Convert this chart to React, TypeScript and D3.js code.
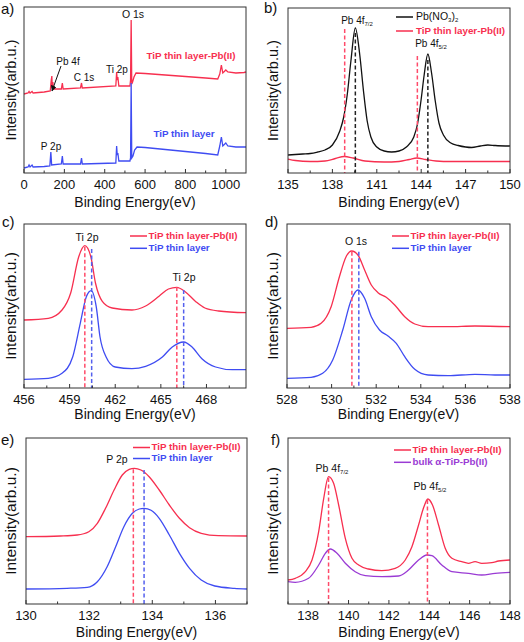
import React from "react";
import * as d3 from "d3";

type Pt = [number, number];

// ---------- Panel a: survey spectra (binding energy eV, intensity a.u.) ----------
const surveyPbLoaded: Pt[] = [
  [0, 79], [20, 80], [25, 81.5], [30, 80], [40, 81.5], [45, 80], [100, 81], [130, 82], [135, 93], [138, 97],
  [140, 85], [143, 91], [146, 84], [185, 84], [190, 90], [194, 84], [280, 85], [285, 90], [289, 85],
  [455, 87], [459, 101], [462, 93], [465, 96], [470, 87], [525, 87], [528, 93], [531, 153], [534, 89],
  [538, 91], [545, 96], [555, 100], [600, 99.5], [700, 98], [800, 96.5], [900, 95], [960, 94], [970, 99],
  [978, 108], [985, 100], [995, 102], [1000, 103], [1010, 101], [1050, 100], [1090, 100.5], [1100, 101],
];
const surveyTiP: Pt[] = [
  [0, 5], [20, 6], [25, 8], [30, 6], [40, 8], [45, 6], [100, 6.5], [128, 7], [133, 21], [137, 8],
  [185, 9], [190, 17], [194, 9], [280, 9], [285, 15], [289, 9], [455, 10], [459, 27], [462, 18],
  [465, 20], [470, 12], [525, 12], [528, 15], [531, 90], [534, 15], [540, 17], [548, 23], [560, 26],
  [600, 25.5], [700, 23.5], [800, 21.5], [900, 19.5], [960, 18], [970, 27], [978, 36], [985, 27],
  [995, 29], [1000, 30], [1010, 27], [1050, 26], [1100, 26],
];
const ticksA = [0, 200, 400, 600, 800, 1000];
const minorA = [100, 300, 500, 700, 900];

// ---------- Panel b: Pb 4f ----------
const pbNitrate: Pt[] = [
  [135, 18], [136, 19], [136.5, 19.5], [137, 21], [137.5, 23], [138, 28], [138.5, 42], [138.75, 55],
  [139, 78], [139.25, 112], [139.55, 145], [139.85, 118], [140.1, 82], [140.35, 52], [140.6, 36],
  [141, 26], [141.5, 22], [142, 21], [142.5, 22], [143, 26], [143.5, 36], [143.75, 49], [144, 74],
  [144.2, 98], [144.45, 119], [144.7, 100], [144.95, 72], [145.2, 50], [145.5, 38], [146, 30],
  [146.5, 27.5], [147, 26], [147.4, 25.5], [148, 27], [148.5, 28], [149, 27.5], [150, 27],
];
const pbOnTiPb: Pt[] = [
  [135, 14], [135.5, 12.5], [136.5, 11.5], [137.5, 12], [138.2, 14.5], [138.8, 16.5], [139.4, 15],
  [140.2, 12], [141.5, 11], [142.5, 11.5], [143.2, 13.5], [143.7, 15], [144.3, 13.5], [145, 12],
  [146, 11.5], [148, 11.5], [150, 11.5],
];
const dashNitrate: Pt[] = [[139.55, 140], [144.45, 113]];
const dashPbOnTiPb: Pt[] = [[138.83, 144], [143.74, 117]];
const ticksB = [135, 138, 141, 144, 147, 150];
const minorB = [136.5, 139.5, 142.5, 145.5, 148.5];

// ---------- Panel c: Ti 2p ----------
const ti2pPb: Pt[] = [
  [456, 68], [457.6, 69.7], [458.5, 78], [459.07, 95], [459.6, 131.3], [460, 142.3], [460.4, 131],
  [460.7, 105], [461.15, 86.7], [461.8, 80], [463.1, 78], [464, 82], [464.9, 92], [465.5, 99],
  [466.05, 100.7], [466.6, 96.3], [467.3, 86.3], [467.9, 80], [468.8, 77], [470.6, 75.3],
];
const ti2pTiP: Pt[] = [
  [456, 8.7], [457.6, 9.7], [458.5, 14.7], [459.2, 31], [459.7, 64.7], [460.1, 91.3], [460.42, 97.3],
  [460.75, 81.3], [461, 51], [461.4, 31], [462, 21], [463.1, 19.3], [464, 21.7], [465.1, 31],
  [465.75, 41], [466.5, 46], [467.05, 41], [467.7, 29.3], [468.6, 21], [469.7, 18.3], [470.6, 18.3],
];
const dashTi2pPb: Pt[] = [[460, 141.3], [466.05, 101]];
const dashTi2pTiP: Pt[] = [[460.45, 139], [466.5, 98]];
const ticksC = [456, 459, 462, 465, 468];
const minorC = [457.5, 460.5, 463.5, 466.5, 469.5];

// ---------- Panel d: O 1s ----------
const o1sPb: Pt[] = [
  [528, 59.7], [529.08, 60.7], [529.53, 64.7], [529.98, 81.3], [530.35, 111.3], [530.65, 131.3],
  [530.9, 137], [531.18, 133], [531.48, 118], [531.78, 103], [532.08, 95.3], [532.45, 90.7],
  [532.83, 83], [533.28, 71.3], [533.73, 64], [534.33, 61.3], [535.23, 61.3], [536.43, 62], [538, 61.3],
];
const o1sTiP: Pt[] = [
  [528, 9.7], [529.08, 10.7], [529.6, 14.7], [530.05, 28], [530.5, 58], [530.88, 88], [531.18, 98],
  [531.48, 89.7], [531.78, 71.3], [532.15, 58], [532.53, 52], [532.9, 44.7], [533.28, 31.3],
  [533.73, 18.7], [534.33, 13], [535.23, 12.3], [536.43, 13.7], [537.33, 13], [538, 13],
];
const dashO1sPb: Pt[] = [[530.91, 136.3]];
const dashO1sTiP: Pt[] = [[531.22, 136.3]];
const ticksD = [528, 530, 532, 534, 536, 538];
const minorD = [529, 531, 533, 535, 537];

// ---------- Panel e: P 2p ----------
const p2pPb: Pt[] = [
  [130, 67.3], [131.09, 68], [131.62, 69], [131.99, 72.3], [132.26, 80.7], [132.52, 95.7],
  [132.79, 114], [133.05, 129], [133.27, 134.7], [133.43, 135.7], [133.64, 134], [133.9, 127.3],
  [134.22, 114], [134.54, 99], [134.86, 85.7], [135.18, 76.3], [135.55, 70.7], [136.09, 68.3], [137, 68],
];
const p2pTiP: Pt[] = [
  [130, 15], [131.3, 15.7], [131.94, 16.7], [132.26, 22.3], [132.57, 37.3], [132.84, 57.3],
  [133.1, 77.3], [133.37, 90.7], [133.59, 95], [133.74, 95.7], [133.96, 93.7], [134.22, 85.7],
  [134.54, 69], [134.86, 50.7], [135.18, 35.7], [135.55, 24], [135.98, 18], [136.6, 15.7], [137, 15],
];
const dashP2pPb: Pt[] = [[133.4, 134.7]];
const dashP2pTiP: Pt[] = [[133.74, 134]];
const ticksE = [130, 132, 134, 136];
const minorE = [131, 133, 135, 137];

// ---------- Panel f: Pb 4f thin layer vs bulk ----------
const pb4fThin: Pt[] = [
  [137, 24], [137.36, 25.7], [137.86, 32.3], [138.19, 44], [138.52, 72.3], [138.77, 105.7],
  [139.01, 127.3], [139.26, 120.7], [139.51, 99], [139.84, 65.7], [140.17, 45.7], [140.5, 39],
  [140.99, 35], [141.65, 33.3], [142.31, 35.7], [142.81, 44], [143.14, 57.3], [143.47, 79],
  [143.71, 95.7], [143.93, 105], [144.16, 99], [144.46, 79], [144.79, 55.7], [145.12, 45.7],
  [145.61, 42.3], [145.94, 40.7], [146.27, 42.3], [146.6, 40.7], [147.1, 41.3], [147.43, 43], [148, 44],
];
const pb4fBulk: Pt[] = [
  [137, 22.3], [137.36, 21.7], [138.02, 25.7], [138.52, 39], [138.85, 50.7], [139.1, 55],
  [139.43, 50.7], [139.84, 40.7], [140.33, 32.3], [140.83, 28.3], [141.65, 27.3], [142.48, 28],
  [142.97, 34], [143.47, 44], [143.88, 49], [144.13, 48.3], [144.62, 39], [145.12, 32.3],
  [145.94, 30.7], [146.6, 29], [147.26, 30.7], [148, 31.7],
];
const dashPb4f: Pt[] = [[139.01, 126], [143.91, 104]];
const ticksF = [138, 140, 142, 144, 146, 148];
const minorF = [137, 139, 141, 143, 145, 147];

// ---------- styling ----------
const RED = "#f72f4f";
const RED_DASH = "#ff4b6a";
const BLUE = "#3f4cf2";
const BLUE_DASH = "#5560ee";
const PURPLE = "#9a3bd4";
const FONT = "'Liberation Sans', Arial, sans-serif";

type Series = { data: Pt[]; color: string; smooth?: boolean };
type Dash = { data: Pt[]; color: string };

type PanelProps = {
  box: [number, number, number, number]; // left, top, right, bottom
  xDomain: [number, number];
  yMax: number;
  majors: number[];
  minors: number[];
  series: Series[];
  dashes: Dash[];
  letter: string;
  letterPos: [number, number];
  yLabelX: number;
  yLabelSize: number;
  tickOffset: number;
  titleOffset: number;
  children?: (x: d3.ScaleLinear<number, number>, y: d3.ScaleLinear<number, number>) => React.ReactNode;
};

function Panel(p: PanelProps) {
  const [l, t, r, b] = p.box;
  const x = d3.scaleLinear().domain(p.xDomain).range([l, r]);
  const y = d3.scaleLinear().domain([0, p.yMax]).range([b, t]);
  const midY = (t + b) / 2;
  return (
    <g>
      {p.series.map((s, i) => {
        const line = d3
          .line<Pt>()
          .x((d) => x(d[0]))
          .y((d) => y(d[1]))
          .curve(s.smooth === false ? d3.curveLinear : d3.curveMonotoneX);
        return <path key={i} d={line(s.data) || ""} fill="none" stroke={s.color} strokeWidth={1.3} />;
      })}
      {p.dashes.map((ds, i) =>
        ds.data.map((d, j) => (
          <line
            key={`${i}-${j}`}
            x1={x(d[0])}
            x2={x(d[0])}
            y1={y(d[1])}
            y2={b}
            stroke={ds.color}
            strokeWidth={1.5}
            strokeDasharray="4,2.5"
          />
        ))
      )}
      <rect x={l} y={t} width={r - l} height={b - t} fill="none" stroke="#333" strokeWidth={1} />
      {p.majors.map((v) => (
        <g key={`M${v}`}>
          <line x1={x(v)} x2={x(v)} y1={b} y2={b - 4} stroke="#333" strokeWidth={1} />
          <text x={x(v)} y={b + p.tickOffset} textAnchor="middle" fontSize={13} fill="#111" fontFamily={FONT}>
            {v}
          </text>
        </g>
      ))}
      {p.minors.map((v) => (
        <line key={`m${v}`} x1={x(v)} x2={x(v)} y1={b} y2={b - 2.5} stroke="#333" strokeWidth={1} />
      ))}
      <text x={(l + r) / 2} y={b + p.titleOffset} textAnchor="middle" fontSize={14} fill="#111" fontFamily={FONT}>
        Binding Energy(eV)
      </text>
      <text
        transform={`translate(${p.yLabelX},${midY}) rotate(-90)`}
        textAnchor="middle"
        dominantBaseline="middle"
        fontSize={p.yLabelSize}
        fill="#111"
        fontFamily={FONT}
      >
        Intensity(arb.u.)
      </text>
      <text x={p.letterPos[0]} y={p.letterPos[1]} fontSize={15} fill="#111" fontFamily={FONT}>
        {p.letter}
      </text>
      {p.children ? p.children(x, y) : null}
    </g>
  );
}

const lbl = (xx: number, yy: number, s: React.ReactNode, opts: any = {}) => (
  <text
    x={xx}
    y={yy}
    fontSize={opts.size || 10}
    fill={opts.color || "#111"}
    fontWeight={opts.bold ? "bold" : "normal"}
    textAnchor={opts.anchor || "middle"}
    dominantBaseline="middle"
    fontFamily={FONT}
  >
    {s}
  </text>
);

const sub = (s: string) => (
  <tspan fontSize={6} dy={3}>
    {s}
  </tspan>
);

function Legend({ x0, y0, dy, items }: { x0: number; y0: number; dy: number; items: { label: string; color: string }[] }) {
  return (
    <g>
      {items.map((it, i) => (
        <g key={i}>
          <line x1={x0} x2={x0 + 17} y1={y0 + i * dy} y2={y0 + i * dy} stroke={it.color} strokeWidth={1.5} />
          <text
            x={x0 + 18.5}
            y={y0 + i * dy}
            fontSize={9.8}
            fontWeight="bold"
            fill={it.color}
            dominantBaseline="middle"
            fontFamily={FONT}
          >
            {it.label}
          </text>
        </g>
      ))}
    </g>
  );
}

export default function App() {
  return (
    <svg width={524} height={642} style={{ position: "absolute", left: 0, top: 0, background: "#fff" }}>
      <defs>
        <marker id="arr" viewBox="0 0 10 10" refX="9" refY="5" markerWidth="6" markerHeight="6" orient="auto">
          <path d="M0,0 L10,5 L0,10 z" fill="#111" />
        </marker>
      </defs>
      {/* a */}
      <Panel
        box={[24, 7, 246, 173]}
        xDomain={[0, 1100]}
        yMax={166}
        majors={ticksA}
        minors={minorA}
        series={[
          { data: surveyPbLoaded, color: RED, smooth: false },
          { data: surveyTiP, color: BLUE, smooth: false },
        ]}
        dashes={[]}
        letter="a)"
        letterPos={[1, 14]}
        yLabelX={12}
        yLabelSize={14.5}
        tickOffset={16}
        titleOffset={34}
      >
        {() => (
          <g>
            {lbl(133, 15, "O 1s", { size: 10.5 })}
            {lbl(191, 56, "TiP thin layer-Pb(II)", { color: RED, bold: true, size: 9.8 })}
            {lbl(68, 62, "Pb 4f")}
            {lbl(84, 78, "C 1s")}
            {lbl(117, 70, "Ti 2p")}
            {lbl(184, 134, "TiP thin layer", { color: BLUE, bold: true, size: 9.8 })}
            {lbl(51, 147, "P 2p")}
            <line x1={61} y1={66} x2={52} y2={91} stroke="#111" strokeWidth={1} markerEnd="url(#arr)" />
          </g>
        )}
      </Panel>
      {/* b */}
      <Panel
        box={[288, 8, 510, 173]}
        xDomain={[135, 150]}
        yMax={165}
        majors={ticksB}
        minors={minorB}
        series={[
          { data: pbNitrate, color: "#111" },
          { data: pbOnTiPb, color: RED },
        ]}
        dashes={[
          { data: dashPbOnTiPb, color: RED_DASH },
          { data: dashNitrate, color: "#222" },
        ]}
        letter="b)"
        letterPos={[264, 13]}
        yLabelX={274}
        yLabelSize={14.5}
        tickOffset={16}
        titleOffset={34}
      >
        {() => (
          <g>
            {lbl(357, 21, <>Pb 4f{sub("7/2")}</>)}
            {lbl(431, 44, <>Pb 4f{sub("5/2")}</>)}
            <line x1={396} x2={413} y1={17} y2={17} stroke="#111" strokeWidth={1.5} />
            <text x={416} y={17} fontSize={10.5} fill="#111" dominantBaseline="middle" fontFamily={FONT}>
              Pb(NO<tspan fontSize={6} dy={3}>3</tspan>
              <tspan dy={-3}>)</tspan>
              <tspan fontSize={6} dy={3}>2</tspan>
            </text>
            <line x1={396} x2={413} y1={31} y2={31} stroke={RED} strokeWidth={1.5} />
            <text x={416} y={31} fontSize={9.8} fontWeight="bold" fill={RED} dominantBaseline="middle" fontFamily={FONT}>
              TiP thin layer-Pb(II)
            </text>
          </g>
        )}
      </Panel>
      {/* c */}
      <Panel
        box={[24, 224, 246, 388]}
        xDomain={[456, 470.6]}
        yMax={164}
        majors={ticksC}
        minors={minorC}
        series={[
          { data: ti2pPb, color: RED },
          { data: ti2pTiP, color: BLUE },
        ]}
        dashes={[
          { data: dashTi2pPb, color: RED_DASH },
          { data: dashTi2pTiP, color: BLUE_DASH },
        ]}
        letter="c)"
        letterPos={[2, 227]}
        yLabelX={12}
        yLabelSize={15.5}
        tickOffset={16}
        titleOffset={31}
      >
        {() => (
          <g>
            {lbl(87, 238, "Ti 2p", { size: 10.5 })}
            {lbl(184, 278, "Ti 2p", { size: 10.5 })}
            <Legend
              x0={130}
              y0={236}
              dy={12.3}
              items={[
                { label: "TiP thin layer-Pb(II)", color: RED },
                { label: "TiP thin layer", color: BLUE },
              ]}
            />
          </g>
        )}
      </Panel>
      {/* d */}
      <Panel
        box={[287, 224, 510, 388]}
        xDomain={[528, 538]}
        yMax={164}
        majors={ticksD}
        minors={minorD}
        series={[
          { data: o1sPb, color: RED },
          { data: o1sTiP, color: BLUE },
        ]}
        dashes={[
          { data: dashO1sPb, color: RED_DASH },
          { data: dashO1sTiP, color: BLUE_DASH },
        ]}
        letter="d)"
        letterPos={[265, 227]}
        yLabelX={274}
        yLabelSize={15.5}
        tickOffset={16}
        titleOffset={31}
      >
        {() => (
          <g>
            {lbl(356, 242, "O 1s", { size: 10.5 })}
            <Legend
              x0={392}
              y0={236}
              dy={12.3}
              items={[
                { label: "TiP thin layer-Pb(II)", color: RED },
                { label: "TiP thin layer", color: BLUE },
              ]}
            />
          </g>
        )}
      </Panel>
      {/* e */}
      <Panel
        box={[26, 438, 247, 604]}
        xDomain={[130, 137]}
        yMax={166}
        majors={ticksE}
        minors={minorE}
        series={[
          { data: p2pPb, color: RED },
          { data: p2pTiP, color: BLUE },
        ]}
        dashes={[
          { data: dashP2pPb, color: RED_DASH },
          { data: dashP2pTiP, color: BLUE_DASH },
        ]}
        letter="e)"
        letterPos={[1, 445]}
        yLabelX={12}
        yLabelSize={15.5}
        tickOffset={16}
        titleOffset={33}
      >
        {() => (
          <g>
            {lbl(117, 460, "P 2p", { size: 10.5 })}
            <Legend
              x0={133}
              y0={447.5}
              dy={11}
              items={[
                { label: "TiP thin layer-Pb(II)", color: RED },
                { label: "TiP thin layer", color: BLUE },
              ]}
            />
          </g>
        )}
      </Panel>
      {/* f */}
      <Panel
        box={[288, 438, 510, 604]}
        xDomain={[137, 148]}
        yMax={166}
        majors={ticksF}
        minors={minorF}
        series={[
          { data: pb4fThin, color: RED },
          { data: pb4fBulk, color: PURPLE },
        ]}
        dashes={[{ data: dashPb4f, color: RED_DASH }]}
        letter="f)"
        letterPos={[271, 445]}
        yLabelX={274}
        yLabelSize={15.5}
        tickOffset={16}
        titleOffset={33}
      >
        {() => (
          <g>
            {lbl(332, 469, <>Pb 4f{sub("7/2")}</>, { size: 10.5 })}
            {lbl(430, 487, <>Pb 4f{sub("5/2")}</>, { size: 10.5 })}
            <Legend
              x0={394}
              y0={450}
              dy={12.3}
              items={[
                { label: "TiP thin layer-Pb(II)", color: RED },
                { label: "bulk α-TiP-Pb(II)", color: PURPLE },
              ]}
            />
          </g>
        )}
      </Panel>
    </svg>
  );
}
